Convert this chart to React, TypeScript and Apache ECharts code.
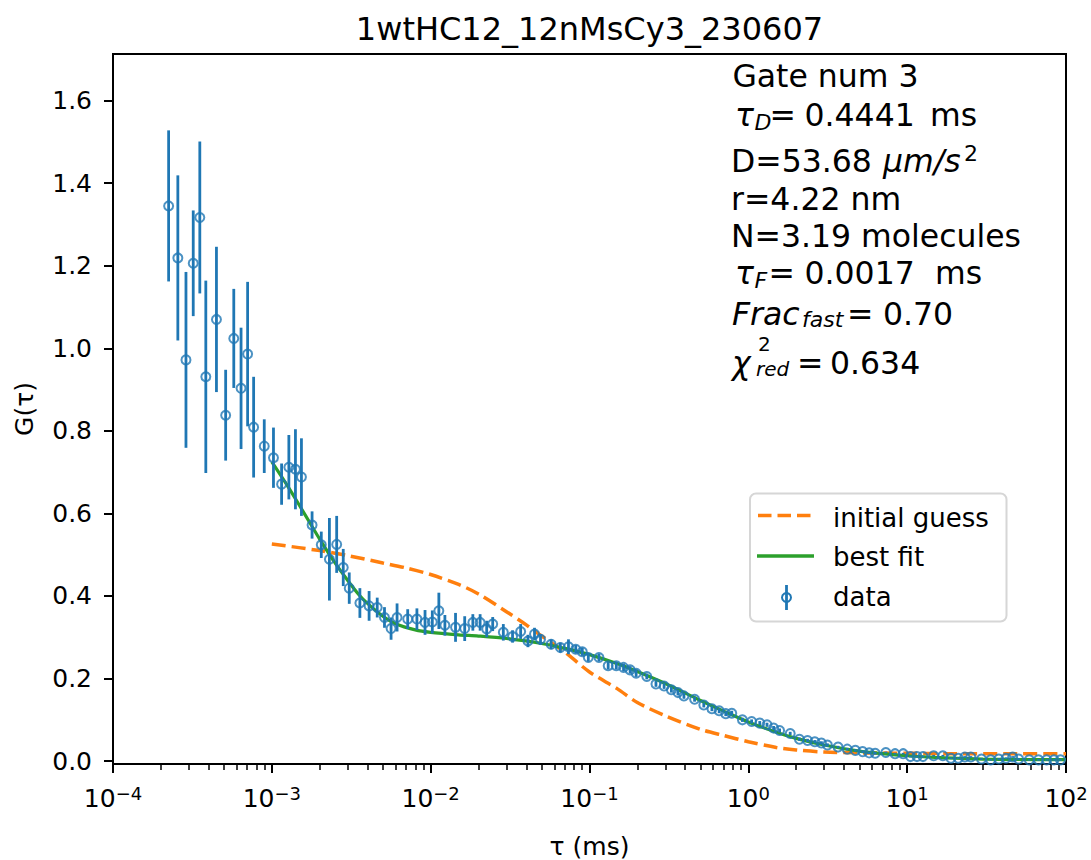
import React, { useEffect, useRef } from "react";
import * as echarts from "echarts";

const FONT = "'DejaVu Sans', sans-serif";
const BLUE = "#1f77b4";
const ORANGE = "#ff7f0e";
const GREEN = "#2ca02c";

// lag times (ms) of the correlation data
const tau = [
  2.24e-4, 2.56e-4, 2.88e-4, 3.2e-4, 3.52e-4, 3.84e-4,
  4.48e-4, 5.12e-4, 5.76e-4, 6.4e-4, 7.04e-4, 7.68e-4,
  8.96e-4, 1.024e-3, 1.152e-3, 1.28e-3, 1.408e-3, 1.536e-3,
  1.792e-3, 2.048e-3, 2.304e-3, 2.56e-3, 2.816e-3, 3.072e-3,
  3.584e-3, 4.096e-3, 4.608e-3, 5.12e-3, 5.632e-3, 6.144e-3,
  7.168e-3, 8.192e-3, 9.216e-3, 1.024e-2, 1.126e-2, 1.229e-2,
  1.434e-2, 1.638e-2, 1.843e-2, 2.048e-2, 2.253e-2, 2.458e-2,
  2.867e-2, 3.277e-2, 3.686e-2, 4.096e-2, 4.506e-2, 4.915e-2,
  5.734e-2, 6.554e-2, 7.373e-2, 8.192e-2, 9.011e-2, 9.83e-2,
  0.1147, 0.1311, 0.1475, 0.1638, 0.1802, 0.1966,
  0.2294, 0.2621, 0.2949, 0.3277, 0.3604, 0.3932,
  0.4588, 0.5243, 0.5898, 0.6554, 0.7209, 0.7864,
  0.9175, 1.049, 1.18, 1.311, 1.442, 1.573,
  1.835, 2.097, 2.359, 2.621, 2.884, 3.146,
  3.67, 4.194, 4.719, 5.243, 5.767, 6.291,
  7.34, 8.389, 9.437, 10.49, 11.53, 12.58,
  14.68, 16.78, 18.87, 20.97, 23.07, 25.17,
  29.36, 33.55, 37.75, 41.94, 46.14, 50.33,
  58.72, 67.11, 75.5, 83.89, 92.27,
];

// measured G(tau)
const gData = [
  1.345, 1.219, 0.972, 1.206, 1.317, 0.931,
  1.07, 0.838, 1.024, 0.903, 0.986, 0.809,
  0.763, 0.735, 0.671, 0.712, 0.707, 0.688,
  0.572, 0.524, 0.489, 0.525, 0.469, 0.419,
  0.383, 0.376, 0.372, 0.348, 0.321, 0.348,
  0.344, 0.344, 0.336, 0.337, 0.364, 0.329,
  0.324, 0.321, 0.336, 0.336, 0.32, 0.332,
  0.312, 0.302, 0.314, 0.291, 0.308, 0.295,
  0.283, 0.275, 0.277, 0.271, 0.265, 0.251,
  0.251, 0.231, 0.231, 0.227, 0.221, 0.213,
  0.205, 0.187, 0.182, 0.173, 0.166, 0.158,
  0.15, 0.136, 0.127, 0.122, 0.115, 0.116,
  0.1, 0.096, 0.092, 0.088, 0.08, 0.074,
  0.067, 0.053, 0.05, 0.047, 0.044, 0.039,
  0.034, 0.029, 0.026, 0.023, 0.02, 0.019,
  0.021, 0.018, 0.018, 0.011, 0.011, 0.011,
  0.013, 0.013, 0.007, 0.007, 0.01, 0.01,
  0.005, 0.003, 0.005, 0.007, 0.01, 0.005,
  0.003, 0.003, 0.003, 0.003, 0.003,
];

// error bar half-lengths
const gErr = [
  0.183, 0.2, 0.213, 0.128, 0.184, 0.233,
  0.176, 0.11, 0.12, 0.147, 0.175, 0.122,
  0.065, 0.073, 0.05, 0.078, 0.097, 0.094,
  0.033, 0.032, 0.1, 0.069, 0.045, 0.038,
  0.036, 0.036, 0.024, 0.025, 0.027, 0.034,
  0.024, 0.026, 0.03, 0.028, 0.044, 0.025,
  0.035, 0.03, 0.02, 0.02, 0.02, 0.017,
  0.02, 0.015, 0.018, 0.015, 0.015, 0.013,
  0.012, 0.012, 0.018, 0.01, 0.01, 0.01,
  0.009, 0.009, 0.009, 0.009, 0.009, 0.009,
  0.007, 0.007, 0.007, 0.007, 0.007, 0.007,
  0.006, 0.006, 0.006, 0.006, 0.006, 0.006,
  0.005, 0.005, 0.005, 0.005, 0.005, 0.005,
  0.004, 0.004, 0.004, 0.004, 0.004, 0.004,
  0.003, 0.003, 0.003, 0.003, 0.003, 0.003,
  0.002, 0.002, 0.002, 0.002, 0.002, 0.002,
  0.002, 0.002, 0.002, 0.002, 0.002, 0.002,
  0.002, 0.002, 0.002, 0.002, 0.002, 0.002,
  0.002, 0.002, 0.002, 0.002, 0.002,
];

// best fit curve
const fitTau = [
  0.001, 0.00125, 0.0015, 0.00175, 0.002, 0.0025, 0.003, 0.0035, 0.004, 0.005,
  0.006, 0.008, 0.01, 0.015, 0.02, 0.03, 0.05, 0.07, 0.1, 0.15, 0.2, 0.3, 0.5,
  0.7, 1, 1.5, 2, 3, 5, 7, 10, 15, 20, 30, 50, 100,
];
const fitG = [
  0.725, 0.668, 0.618, 0.575, 0.538, 0.48, 0.438, 0.405, 0.382, 0.351,
  0.333, 0.318, 0.312, 0.306, 0.303, 0.297, 0.285, 0.273, 0.258, 0.236, 0.217, 0.188, 0.147,
  0.121, 0.095, 0.07, 0.055, 0.039, 0.024, 0.018, 0.013, 0.009, 0.007, 0.005, 0.004, 0.0035,
];

// initial guess curve
const guessTau = [
  0.001, 0.002, 0.003, 0.005, 0.007, 0.01, 0.015, 0.02, 0.03, 0.04, 0.05, 0.07,
  0.1, 0.15, 0.2, 0.3, 0.5, 0.7, 1, 1.5, 2, 3, 5, 10, 20, 50, 100,
];
const guessG = [
  0.526, 0.51, 0.498, 0.48, 0.468, 0.452, 0.428, 0.405, 0.362, 0.33, 0.303, 0.264,
  0.216, 0.175, 0.142, 0.11, 0.077, 0.062, 0.047, 0.033, 0.027, 0.022, 0.02, 0.019, 0.018, 0.018, 0.018,
];

const Y_MIN = -0.007;
const Y_MAX = 1.713;
const yTicks = [0, 0.2, 0.4, 0.6, 0.8, 1.0, 1.2, 1.4, 1.6];
const minorMultipliers = [2, 3, 4, 5, 6, 7, 8, 9];
const minorDecades = [-4, -3, -2, -1, 0, 1];
// minor tick positions expressed as log10(tau)
const minorTickExps = minorDecades.flatMap((e) =>
  minorMultipliers.map((m) => e + Math.log10(m))
);

const title = "1wtHC12_12nMsCy3_230607";
const legendLabels = ["initial guess", "best fit", "data"];

type Frag = { t: string; x: number; y: number; size?: number; italic?: boolean };
const FS = 31.5;
const SS = 22;
const boxFrags: Frag[] = [
  { t: "Gate num 3", x: 732.4, y: 75.8 },
  { t: "τ", x: 735, y: 115, italic: true },
  { t: "D", x: 754.5, y: 122.5, size: SS, italic: true },
  { t: "=", x: 769.5, y: 115 },
  { t: "0.4441", x: 804.5, y: 115 },
  { t: "ms", x: 930, y: 115 },
  { t: "D=53.68 ", x: 731, y: 160.8 },
  { t: "μm/s", x: 883, y: 160.8, italic: true },
  { t: "2", x: 964, y: 153.5, size: SS },
  { t: "r=4.22 nm", x: 731, y: 199.3 },
  { t: "N=3.19 molecules", x: 731, y: 235.5 },
  { t: "τ", x: 735, y: 272.5, italic: true },
  { t: "F", x: 754.5, y: 280, size: SS, italic: true },
  { t: "=", x: 768.5, y: 272.5 },
  { t: "0.0017", x: 804.5, y: 272.5 },
  { t: "ms", x: 935, y: 272.5 },
  { t: "Frac", x: 732, y: 314.2, italic: true },
  { t: "fast", x: 802, y: 319.5, size: SS, italic: true },
  { t: "=", x: 847, y: 314.2 },
  { t: "0.70", x: 883, y: 314.2 },
  { t: "χ", x: 732, y: 362.5, italic: true },
  { t: "2", x: 758, y: 343.5, size: 20 },
  { t: "red", x: 756, y: 368.5, size: 20, italic: true },
  { t: "=", x: 797, y: 362.5 },
  { t: "0.634", x: 830, y: 362.5 },
];

function buildOption() {
  const textEls = boxFrags.map((f) => {
    const size = f.size ?? FS;
    return {
      type: "text",
      x: f.x,
      y: f.y,
      style: {
        text: f.t,
        fontFamily: FONT,
        fontSize: size,
        lineHeight: Math.round(size * 0.9),
        fontStyle: f.italic ? "italic" : "normal",
        fill: "#000",
        align: "left",
        verticalAlign: "middle",
      },
    };
  });

  const legendEls = [
    {
      type: "rect",
      shape: { x: 750, y: 493.5, width: 256.5, height: 128, r: 6 },
      style: { fill: "rgba(255,255,255,0.8)", stroke: "#d6d6d6", lineWidth: 2 },
    },
    {
      type: "line",
      shape: { x1: 758, y1: 515.5, x2: 814, y2: 515.5 },
      style: { stroke: ORANGE, lineWidth: 3.5, lineDash: [13.5, 6] },
    },
    {
      type: "line",
      shape: { x1: 757, y1: 556, x2: 814, y2: 556 },
      style: { stroke: GREEN, lineWidth: 3.5 },
    },
    {
      type: "line",
      shape: { x1: 786.5, y1: 585, x2: 786.5, y2: 610 },
      style: { stroke: BLUE, lineWidth: 2.8 },
    },
    {
      type: "circle",
      shape: { cx: 786.5, cy: 597.5, r: 4.5 },
      style: { fill: "rgba(0,0,0,0)", stroke: BLUE, lineWidth: 2 },
    },
    ...legendLabels.map((t, i) => ({
      type: "text",
      x: 833,
      y: [518, 556.5, 597][i],
      style: {
        text: t,
        fontFamily: FONT,
        fontSize: 26,
        lineHeight: 26,
        fill: "#000",
        align: "left",
        verticalAlign: "middle",
      },
    })),
  ];

  const tickLine = { color: "#000", width: 2 };

  return {
    animation: false,
    backgroundColor: "#ffffff",
    title: {
      text: title,
      left: 589.5,
      top: 12.5,
      textAlign: "center",
      padding: 0,
      textStyle: { fontFamily: FONT, fontSize: 32, fontWeight: "normal", color: "#000" },
    },
    grid: {
      left: 113,
      top: 54,
      width: 953,
      height: 710,
      show: true,
      borderColor: "#000",
      borderWidth: 2,
      backgroundColor: "rgba(0,0,0,0)",
      containLabel: false,
      outerBoundsMode: "none",
    },
    xAxis: [
      {
        type: "log",
        logBase: 10,
        min: 1e-4,
        max: 100,
        position: "bottom",
        name: "τ (ms)",
        nameLocation: "middle",
        nameGap: 70,
        nameTextStyle: { fontFamily: FONT, fontSize: 25, lineHeight: 25, color: "#000" },
        axisLine: { show: false, onZero: false },
        axisTick: { show: true, inside: false, length: 9, lineStyle: tickLine },
        axisLabel: {
          margin: 20,
          color: "#000",
          fontFamily: FONT,
          fontSize: 25,
          formatter: (v: number) => {
            const e = Math.round(Math.log10(v));
            return "{b|10}{s|" + (e < 0 ? "\u2212" : "") + Math.abs(e) + "}";
          },
          rich: {
            b: { fontFamily: FONT, fontSize: 25, color: "#000" },
            s: { fontFamily: FONT, fontSize: 18, color: "#000", padding: [0, 0, 11, 0] },
          },
        },
        splitLine: { show: false },
        minorTick: { show: false },
      },
      {
        // helper axis in log10 units carrying the minor ticks
        type: "value",
        min: -4,
        max: 2,
        position: "bottom",
        offset: 0,
        axisLine: { show: false, onZero: false },
        axisTick: {
          show: true,
          length: 6,
          customValues: minorTickExps,
          lineStyle: { color: "#000", width: 1.5 },
        },
        axisLabel: { show: false },
        splitLine: { show: false },
      },
    ],
    yAxis: {
      type: "value",
      min: Y_MIN,
      max: Y_MAX,
      position: "left",
      name: "G(τ)",
      nameLocation: "middle",
      nameGap: 76,
      nameRotate: 90,
      nameTextStyle: { fontFamily: FONT, fontSize: 25, color: "#000" },
      axisLine: { show: false, onZero: false },
      axisTick: { show: true, length: 9, customValues: yTicks, lineStyle: tickLine },
      axisLabel: {
        customValues: yTicks,
        margin: 21,
        color: "#000",
        fontFamily: FONT,
        fontSize: 25,
        formatter: (v: number) => v.toFixed(1),
      },
      splitLine: { show: false },
    },
    series: [
      {
        name: "initial guess",
        type: "line",
        xAxisIndex: 0,
        data: guessTau.map((t, i) => [t, guessG[i]]),
        showSymbol: false,
        symbol: "none",
        smooth: 0.3,
        lineStyle: { color: ORANGE, width: 3.5, type: [14, 6] },
        z: 2,
      },
      {
        name: "best fit",
        type: "line",
        xAxisIndex: 0,
        data: fitTau.map((t, i) => [t, fitG[i]]),
        showSymbol: false,
        symbol: "none",
        smooth: 0.3,
        lineStyle: { color: GREEN, width: 3.2 },
        z: 3,
      },
      {
        name: "data error",
        type: "custom",
        xAxisIndex: 0,
        data: tau.map((t, i) => [t, gData[i], gErr[i]]),
        encode: { x: 0, y: 1 },
        renderItem: (params: any, api: any) => {
          const x = api.value(0);
          const y = api.value(1);
          const e = api.value(2);
          const p1 = api.coord([x, y - e]);
          const p2 = api.coord([x, y + e]);
          return {
            type: "line",
            shape: { x1: p1[0], y1: p1[1], x2: p2[0], y2: p2[1] },
            style: { stroke: BLUE, lineWidth: 2.8 },
          };
        },
        z: 4,
      },
      {
        name: "data",
        type: "scatter",
        xAxisIndex: 0,
        data: tau.map((t, i) => [t, gData[i]]),
        symbol: "circle",
        symbolSize: 9,
        itemStyle: { color: "rgba(0,0,0,0)", borderColor: BLUE, borderWidth: 2 },
        z: 5,
      },
    ],
    graphic: [
      { type: "group", z: 100, children: [...textEls, ...legendEls] },
    ],
  };
}

export default function App() {
  const ref = useRef<HTMLDivElement>(null);
  useEffect(() => {
    if (!ref.current) return;
    const chart = echarts.init(ref.current, undefined, { renderer: "svg" });
    chart.setOption(buildOption() as any);
    return () => chart.dispose();
  }, []);
  return (
    <div
      ref={ref}
      style={{ position: "fixed", left: 0, top: 0, width: 1091, height: 860, background: "#fff" }}
    />
  );
}
